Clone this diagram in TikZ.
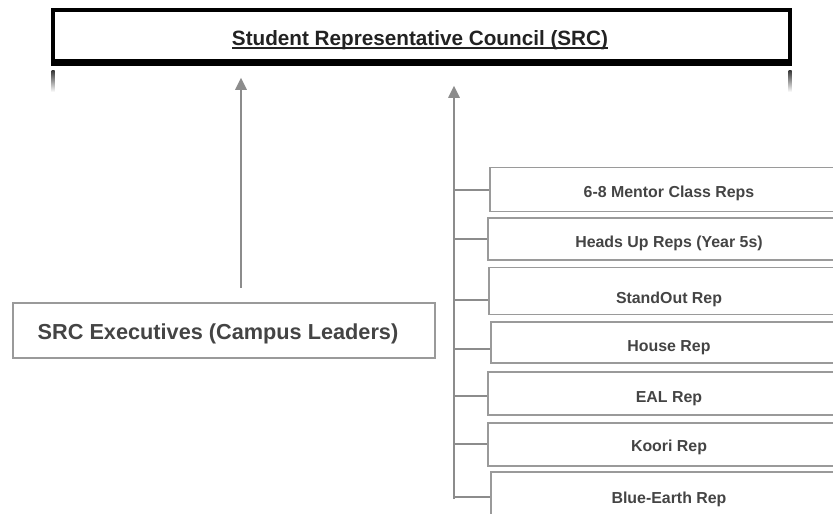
\documentclass[tikz,border=0pt]{standalone}
\usepackage{fontspec}
\setmainfont{Liberation Sans}
\usetikzlibrary{arrows.meta}
\definecolor{linegray}{HTML}{8C8C8C}
\definecolor{boxgray}{HTML}{9A9A9A}
\definecolor{txtgray}{HTML}{444444}
\definecolor{titlecol}{HTML}{222222}
\begin{document}
\begin{tikzpicture}[x=1pt,y=-1pt,
  conn/.style={draw=linegray,line width=2.5pt},
  arr/.style={conn,-{Triangle[width=11pt,length=12pt]}},
  repbox/.style={rectangle,draw=boxgray,line width=1.8pt,minimum width=358pt,inner sep=0pt},
  reptext/.style={anchor=base,inner sep=0pt,text=txtgray,font=\bfseries\fontsize{15.9}{18}\selectfont},
]
\useasboundingbox (0,0) rectangle (833,514);
\clip (0,0) rectangle (833,514);

% top council box
\node[rectangle,draw=black,line width=3.5pt,minimum width=737pt,minimum height=54pt,inner sep=0pt] (src) at (421.5,37) {};
\draw[black,line width=3pt] (src.south west) ++(0,-5) coordinate (dl) -- (dl -| src.south east);
\shade[top color=black!80,bottom color=white] (51.5,70) rectangle (54.5,92);
\shade[top color=black!80,bottom color=white] (788.5,70) rectangle (791.5,92);
\node[anchor=base,inner sep=0pt,text=titlecol,font=\bfseries\fontsize{20.7}{24}\selectfont] (title) at (420,45) {Student Representative Council (SRC)};
\draw[titlecol,line width=1.6pt] ([yshift=-3pt]title.base west) -- ([yshift=-3pt]title.base east);

% executives
\node[rectangle,draw=boxgray,line width=2.2pt,minimum width=422pt,minimum height=55pt,inner sep=0pt] (exec) at (224,330.5) {};
\node[anchor=base,inner sep=0pt,text=txtgray,font=\bfseries\fontsize{21.7}{25}\selectfont] (exectext) at (218,339.5) {SRC Executives (Campus Leaders)};
\draw[arr,shorten <=14pt,shorten >=12pt] ([xshift=17pt]exec.north) -- ([xshift=17pt]exec.north |- src.south);

% rep boxes
\node[repbox,minimum height=44pt] (b1) at (669,189.5) {};
\node[repbox,minimum height=42pt] (b2) at (667,239) {};
\node[repbox,minimum height=47pt] (b3) at (668,291) {};
\node[repbox,minimum height=41pt] (b4) at (670,342.5) {};
\node[repbox,minimum height=43pt] (b5) at (667,393.5) {};
\node[repbox,minimum height=43pt] (b6) at (667,444.5) {};
\node[repbox,minimum height=48pt] (b7) at (670,496) {};

\node[reptext] (t1) at (669,197) {6-8 Mentor Class Reps};
\node[reptext] (t2) at (669,247) {Heads Up Reps (Year 5s)};
\node[reptext] (t3) at (669,303) {StandOut Rep};
\node[reptext] (t4) at (669,351) {House Rep};
\node[reptext] (t5) at (669,402) {EAL Rep};
\node[reptext] (t6) at (669,451) {Koori Rep};
\node[reptext] (t7) at (669,503) {Blue-Earth Rep};

% trunk
\coordinate (trunkbot) at (454,499);
\draw[arr,shorten >=20pt] (trunkbot) -- (trunkbot |- src.south);
\draw[conn] (trunkbot |- 0,190) -- (b1.west |- 0,190);
\draw[conn] (trunkbot |- 0,239) -- (b2.west |- 0,239);
\draw[conn] (trunkbot |- 0,300) -- (b3.west |- 0,300);
\draw[conn] (trunkbot |- 0,349) -- (b4.west |- 0,349);
\draw[conn] (trunkbot |- 0,396) -- (b5.west |- 0,396);
\draw[conn] (trunkbot |- 0,444) -- (b6.west |- 0,444);
\draw[conn] (trunkbot |- 0,497) -- (b7.west |- 0,497);
\end{tikzpicture}
\end{document}
